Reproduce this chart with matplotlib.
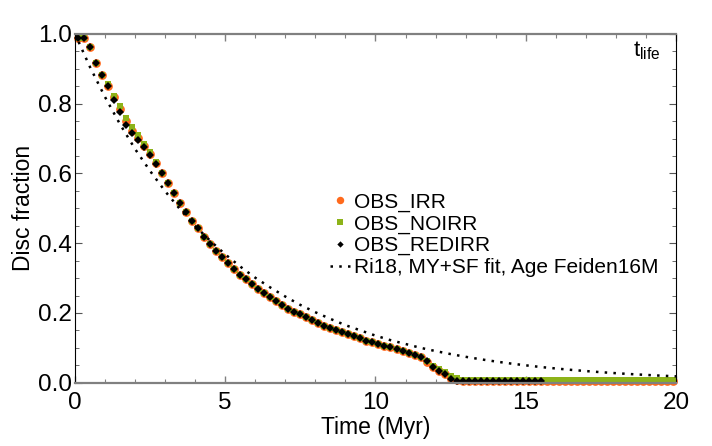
import numpy as np
import matplotlib
matplotlib.use("Agg")
import matplotlib.pyplot as plt

plt.rcParams['font.family'] = ['Liberation Sans', 'DejaVu Sans']
plt.rcParams['mathtext.fontset'] = 'custom'
plt.rcParams['mathtext.rm'] = 'Liberation Sans'
plt.rcParams['mathtext.it'] = 'Liberation Sans'

# model output times (Myr)
t_obs = np.round(np.arange(0.1, 20.0, 0.2), 1)

obs_irr = [
    0.988, 0.987, 0.962, 0.917, 0.881, 0.852, 0.818, 0.785, 0.751, 0.723,
    0.702, 0.680, 0.655, 0.630, 0.600, 0.573, 0.544, 0.516, 0.489, 0.464,
    0.443, 0.419, 0.399, 0.377, 0.361, 0.342, 0.326, 0.310, 0.296, 0.282,
    0.270, 0.257, 0.245, 0.234, 0.223, 0.212, 0.203, 0.196, 0.187, 0.179,
    0.172, 0.164, 0.158, 0.152, 0.145, 0.139, 0.133, 0.128, 0.121, 0.116,
    0.110, 0.105, 0.101, 0.096, 0.090, 0.085, 0.079, 0.074, 0.060, 0.045,
    0.033, 0.024, 0.012, 0.008, 0.006, 0.006, 0.006, 0.006, 0.006, 0.006,
    0.006, 0.006, 0.006, 0.006, 0.006, 0.006, 0.006, 0.006, 0.006, 0.006,
    0.006, 0.006, 0.006, 0.006, 0.006, 0.006, 0.006, 0.006, 0.006, 0.006,
    0.006, 0.006, 0.006, 0.006, 0.006, 0.006, 0.006, 0.006, 0.006, 0.006,
]

obs_noirr = [
    0.988, 0.987, 0.962, 0.917, 0.881, 0.855, 0.823, 0.793, 0.760, 0.733,
    0.709, 0.685, 0.660, 0.632, 0.600, 0.573, 0.544, 0.516, 0.489, 0.464,
    0.443, 0.419, 0.399, 0.377, 0.361, 0.342, 0.326, 0.310, 0.296, 0.282,
    0.270, 0.257, 0.245, 0.234, 0.223, 0.212, 0.203, 0.196, 0.187, 0.179,
    0.172, 0.164, 0.158, 0.152, 0.145, 0.139, 0.133, 0.128, 0.121, 0.116,
    0.110, 0.105, 0.101, 0.096, 0.090, 0.085, 0.079, 0.074, 0.062, 0.049,
    0.039, 0.031, 0.020, 0.013, 0.009, 0.008, 0.007, 0.007, 0.007, 0.007,
    0.007, 0.007, 0.007, 0.007, 0.007, 0.007, 0.007, 0.007, 0.007, 0.007,
    0.007, 0.007, 0.007, 0.007, 0.007, 0.007, 0.007, 0.007, 0.007, 0.007,
    0.007, 0.007, 0.007, 0.007, 0.007, 0.007, 0.007, 0.007, 0.007, 0.007,
]

nan = np.nan
obs_redirr = [
    0.988, 0.987, 0.962, 0.917, 0.881, 0.850, 0.811, 0.775, 0.739, 0.715,
    0.695, 0.675, 0.652, 0.628, 0.600, 0.573, 0.544, 0.516, 0.489, 0.464,
    0.443, 0.419, 0.399, 0.377, 0.361, 0.342, 0.326, 0.310, 0.296, 0.282,
    0.270, 0.257, 0.245, 0.234, 0.223, 0.212, 0.203, 0.196, 0.187, 0.179,
    0.172, 0.164, 0.158, 0.152, 0.145, 0.139, 0.133, 0.128, 0.121, 0.116,
    0.110, 0.105, 0.101, 0.096, 0.090, 0.085, 0.079, 0.074, 0.062, 0.045,
    0.033, 0.024, 0.012, 0.006, 0.005, 0.005, 0.005, 0.005, 0.005, 0.005,
    0.005, 0.005, 0.005, 0.005, 0.005, 0.005, 0.005, 0.005, nan, nan,
    nan, nan, nan, nan, nan, nan, nan, nan, nan, nan,
    nan, nan, nan, nan, nan, nan, nan, nan, nan, nan,
]

# Ri18 fit curve
t_fit = np.arange(0, 20.5, 0.5)
ri18_fit = [
    1.000, 0.905, 0.819, 0.741, 0.670, 0.607, 0.549, 0.497, 0.449, 0.407,
    0.368, 0.333, 0.301, 0.273, 0.247, 0.223, 0.202, 0.183, 0.165, 0.150,
    0.135, 0.122, 0.111, 0.100, 0.0907, 0.0821, 0.0743, 0.0672, 0.0608, 0.0550,
    0.0498, 0.0450, 0.0408, 0.0369, 0.0334, 0.0302, 0.0273, 0.0247, 0.0224, 0.0202,
    0.0183,
]

fig = plt.figure(figsize=(7.12, 4.46), dpi=100)
ax = fig.add_axes([0.1053, 0.1419, 0.8441, 0.7821])

ax.plot(t_obs, obs_irr, 'o', color='#ff6a1c', ms=6.3, mew=0, label='OBS_IRR', clip_on=False)
ax.plot(t_obs, obs_noirr, 's', color='#8db319', ms=5.0, mew=0, label='OBS_NOIRR', clip_on=False)
ax.plot(t_obs, obs_redirr, 'D', color='black', ms=3.8, mew=0, label='OBS_REDIRR', clip_on=False)
ax.plot(t_fit, ri18_fit, color='black', lw=1.8, linestyle=(0, (1, 2.5)),
        dash_capstyle='butt', label='Ri18, MY+SF fit, Age Feiden16M')

ax.set_xlim(0, 20)
ax.set_ylim(0, 1)
ax.set_xticks([0, 5, 10, 15, 20])
ax.set_xticks(np.arange(0, 21, 1), minor=True)
ax.set_yticks([0, 0.2, 0.4, 0.6, 0.8, 1.0])
ax.set_yticks(np.arange(0, 1.001, 0.05), minor=True)
ax.set_yticklabels(['0.0', '0.2', '0.4', '0.6', '0.8', '1.0'])

ax.tick_params(axis='both', which='both', direction='in', top=True, right=True, labelsize=17.5)
ax.tick_params(axis='x', which='major', length=5, width=1, color='#808080', pad=7)
ax.tick_params(axis='x', which='minor', length=3, width=0.8, color='#808080')
ax.tick_params(axis='y', which='major', length=5, width=0.8, color='#555555', pad=2)
ax.tick_params(axis='y', which='minor', length=3, width=0.6, color='#555555')

for side in ['top', 'bottom']:
    ax.spines[side].set_color('#808080')
    ax.spines[side].set_linewidth(1.6)
for side in ['left', 'right']:
    ax.spines[side].set_color('black')
    ax.spines[side].set_linewidth(0.8)

ax.set_xlabel('Time (Myr)', fontsize=16.5, labelpad=1)
ax.set_ylabel('Disc fraction', fontsize=16.5, labelpad=2)

ax.text(0.928, 0.935, r'$\mathrm{t_{life}}$', transform=ax.transAxes,
        fontsize=16, ha='left', va='baseline')

ax.legend(loc='upper left', bbox_to_anchor=(0.424, 0.545), frameon=False,
          fontsize=15, borderpad=0, borderaxespad=0, handlelength=1.0,
          handletextpad=0.15, labelspacing=0.12, markerscale=0.85)

fig.savefig('out.png', dpi=100)
